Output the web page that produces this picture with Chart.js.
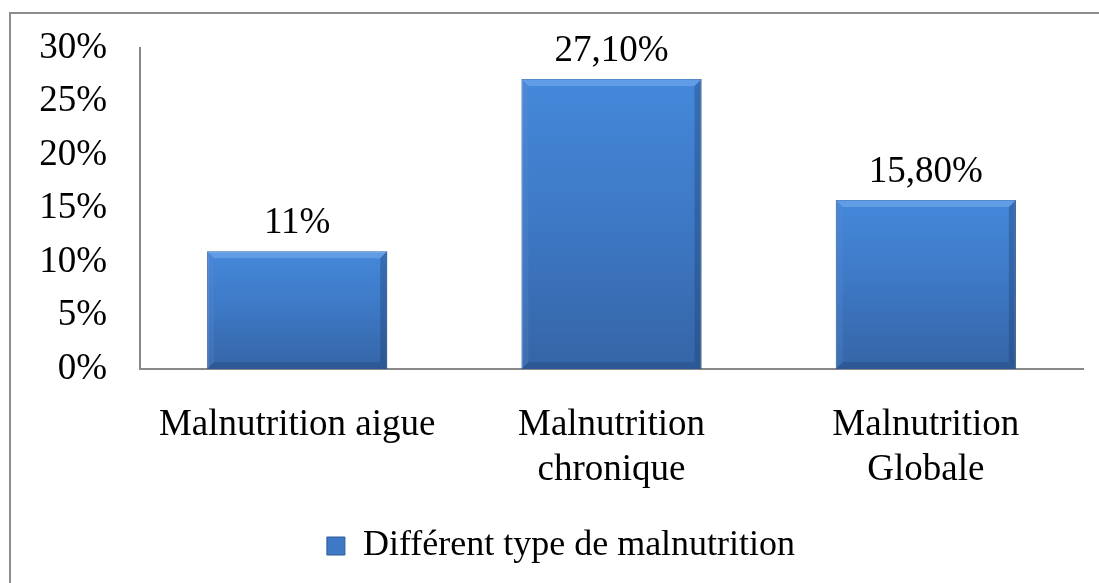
<!DOCTYPE html>
<html lang="fr">
<head>
    <meta charset="UTF-8">
    <title>Différent type de malnutrition</title>
    <script src="https://cdn.jsdelivr.net/npm/chart.js"></script>
    <style>
        html, body {
            margin: 0;
            padding: 0;
            width: 1099px;
            height: 583px;
            overflow: hidden;
            background: #ffffff;
        }
        /* outer chart frame, runs off the right and bottom edges */
        .frame {
            position: absolute;
            left: 9px;
            top: 12px;
            width: 1200px;
            height: 700px;
            border: 2px solid #8c8c8c;
        }
        .chart-box {
            position: absolute;
            left: 0;
            top: 0;
            width: 1099px;
            height: 583px;
        }
    </style>
</head>
<body>
    <div class="frame"></div>
    <div class="chart-box">
        <canvas id="malnutritionChart"></canvas>
    </div>

    <script>
        // Data
        const categories = [
            ['Malnutrition aigue'],
            ['Malnutrition', 'chronique'],
            ['Malnutrition', 'Globale']
        ];
        const seriesLabel = 'Différent type de malnutrition';
        const values = [11, 27.1, 15.8];
        const yTicks = [0, 5, 10, 15, 20, 25, 30];

        const serif = "'Liberation Serif', 'Times New Roman', serif";

        function formatPct(v) {
            return Number.isInteger(v) ? v + '%' : v.toFixed(2).replace('.', ',') + '%';
        }

        // vertical gradient per bar, top lighter than bottom
        function barFill(ctx) {
            const chart = ctx.chart;
            if (!chart.chartArea) return '#3f78c4';
            const y = chart.scales.y;
            const top = y.getPixelForValue(ctx.raw);
            const bottom = y.getPixelForValue(0);
            const g = chart.ctx.createLinearGradient(0, top, 0, bottom);
            g.addColorStop(0, '#4588da');
            g.addColorStop(0.5, '#3d78c4');
            g.addColorStop(1, '#3565a6');
            return g;
        }

        // bevel look on the bars + value labels above them
        const barDecor = {
            id: 'barDecor',
            afterDatasetsDraw(chart) {
                const ctx = chart.ctx;
                const meta = chart.getDatasetMeta(0);
                ctx.save();
                meta.data.forEach((bar, i) => {
                    const left = bar.x - bar.width / 2;
                    const right = bar.x + bar.width / 2;
                    const top = bar.y;
                    const bottom = bar.base;
                    const b = 7;
                    // top bevel
                    ctx.fillStyle = 'rgba(120, 175, 240, 0.55)';
                    ctx.beginPath();
                    ctx.moveTo(left, top); ctx.lineTo(right, top);
                    ctx.lineTo(right - b, top + b); ctx.lineTo(left + b, top + b);
                    ctx.closePath(); ctx.fill();
                    // right bevel
                    ctx.fillStyle = 'rgba(30, 60, 110, 0.35)';
                    ctx.beginPath();
                    ctx.moveTo(right, top); ctx.lineTo(right, bottom);
                    ctx.lineTo(right - b, bottom - b); ctx.lineTo(right - b, top + b);
                    ctx.closePath(); ctx.fill();
                    // bottom bevel
                    ctx.fillStyle = 'rgba(30, 60, 110, 0.3)';
                    ctx.beginPath();
                    ctx.moveTo(left, bottom); ctx.lineTo(right, bottom);
                    ctx.lineTo(right - b, bottom - b); ctx.lineTo(left + b, bottom - b);
                    ctx.closePath(); ctx.fill();
                    // left bevel
                    ctx.fillStyle = 'rgba(90, 140, 210, 0.25)';
                    ctx.beginPath();
                    ctx.moveTo(left, top); ctx.lineTo(left, bottom);
                    ctx.lineTo(left + b, bottom - b); ctx.lineTo(left + b, top + b);
                    ctx.closePath(); ctx.fill();

                    // value label, baseline 18px above the bar
                    ctx.fillStyle = '#000000';
                    ctx.font = '37px ' + serif;
                    ctx.textAlign = 'center';
                    ctx.textBaseline = 'alphabetic';
                    ctx.fillText(formatPct(values[i]), bar.x, top - 18);
                });
                ctx.restore();
            }
        };

        const chartCtx = document.getElementById('malnutritionChart').getContext('2d');
        new Chart(chartCtx, {
            type: 'bar',
            data: {
                labels: categories,
                datasets: [{
                    label: seriesLabel,
                    data: values,
                    backgroundColor: barFill,
                    borderColor: '#2f5b97',
                    borderWidth: 1,
                    categoryPercentage: 1,
                    barPercentage: 0.573
                }]
            },
            options: {
                responsive: true,
                maintainAspectRatio: false,
                animation: false,
                layout: {
                    padding: { left: 39, right: 16, top: 48, bottom: 9 }
                },
                plugins: {
                    tooltip: { enabled: false },
                    legend: {
                        position: 'bottom',
                        labels: {
                            color: '#000000',
                            font: { family: serif, size: 36 },
                            boxWidth: 18,
                            boxHeight: 18,
                            padding: 14,
                            generateLabels(chart) {
                                return [{
                                    text: seriesLabel,
                                    fillStyle: '#3f78c4',
                                    strokeStyle: '#2f5b97',
                                    lineWidth: 1,
                                    datasetIndex: 0,
                                    hidden: false
                                }];
                            }
                        }
                    }
                },
                scales: {
                    x: {
                        afterFit(scale) {
                            scale.height = 145;
                            scale.paddingLeft = 0;
                            scale.paddingRight = 0;
                        },
                        grid: { display: false, drawTicks: false },
                        border: { color: '#888888', width: 2 },
                        ticks: {
                            color: '#000000',
                            font: { family: serif, size: 37, lineHeight: 1.22 },
                            padding: 34,
                            maxRotation: 0
                        }
                    },
                    y: {
                        min: 0,
                        max: 30,
                        afterBuildTicks(scale) {
                            scale.ticks = yTicks.map(v => ({ value: v }));
                        },
                        afterFit(scale) {
                            scale.width = 101;
                            scale.paddingTop = 0;
                            scale.paddingBottom = 0;
                        },
                        grid: { display: false, drawTicks: false },
                        border: { color: '#888888', width: 2 },
                        ticks: {
                            color: '#000000',
                            font: { family: serif, size: 37 },
                            padding: 33,
                            callback: v => v + '%'
                        }
                    }
                }
            },
            plugins: [barDecor]
        });
    </script>
</body>
</html>
